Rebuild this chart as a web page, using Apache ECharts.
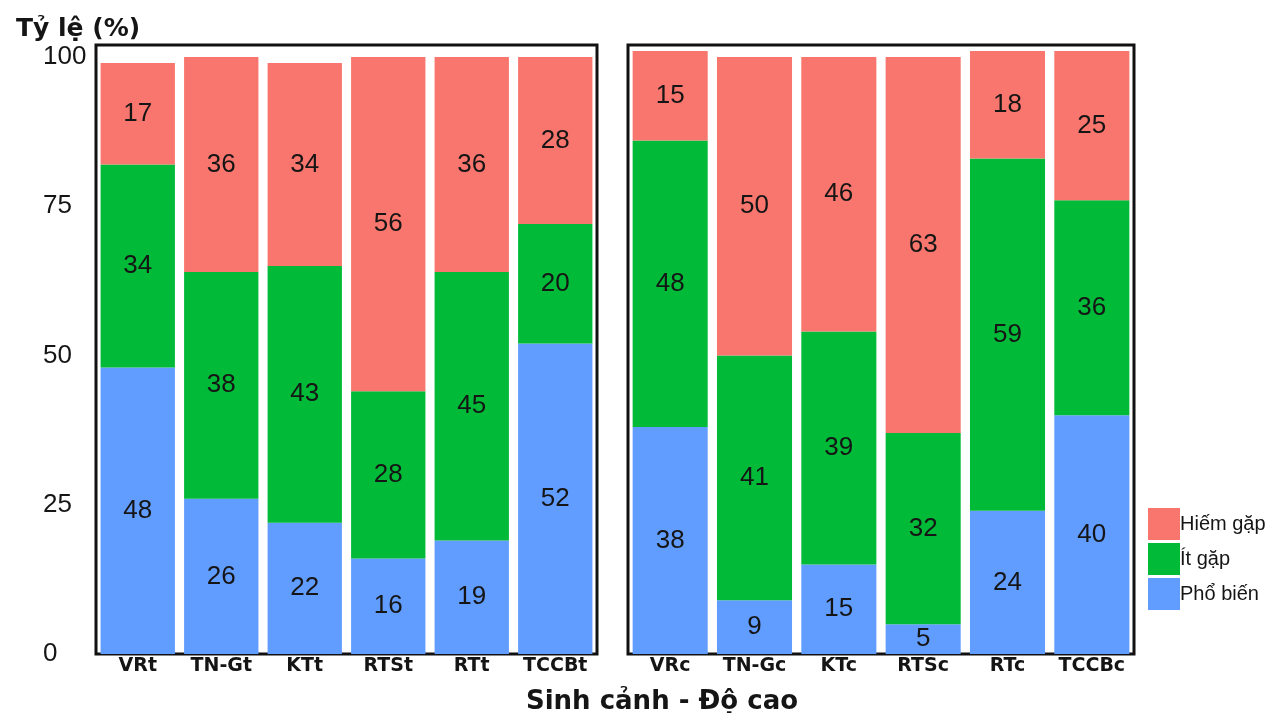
<!DOCTYPE html>
<html><head><meta charset="utf-8">
<script src="https://cdn.jsdelivr.net/npm/echarts@6/dist/echarts.min.js"></script>
<style>html,body{margin:0;padding:0;background:#fff}#c{width:1271px;height:713px}</style>
</head><body><div id="c"></div>
<script>
const catsLow = ['VRt','TN-Gt','KTt','RTSt','RTt','TCCBt'];
const catsHigh = ['VRc','TN-Gc','KTc','RTSc','RTc','TCCBc'];
const phoBienLow = [48,26,22,16,19,52];
const itGapLow = [34,38,43,28,45,20];
const hiemGapLow = [17,36,34,56,36,28];
const phoBienHigh = [38,9,15,5,24,40];
const itGapHigh = [48,41,39,32,59,36];
const hiemGapHigh = [15,50,46,63,18,25];
const yTicks = [0,25,50,75,100];
const legendOrder = ['Hiếm gặp','Ít gặp','Phổ biến'];
const colors = {'Phổ biến':'#619CFF','Ít gặp':'#00BA38','Hiếm gặp':'#F8766D'};

const font = 'Liberation Sans, Arial, sans-serif';
const boldFont = 'DejaVu Sans, sans-serif';
function mkSeries(name, data, idx, stack){
  return {name:name,type:'bar',stack:stack,xAxisIndex:idx,yAxisIndex:idx,data:data,
    barCategoryGap:'11%',itemStyle:{color:colors[name]},
    label:{show:true,position:'inside',fontSize:26,color:'#151515',fontFamily:font}};
}
function mkY(idx, showLabels){
  return {type:'value',gridIndex:idx,min:0,max:102,
    axisLine:{show:false},splitLine:{show:false},
    axisTick:{show:false},
    axisLabel:{show:showLabels,customValues:yTicks,fontSize:26,color:'#151515',fontFamily:font,
      align:'left',margin:53}};
}
function mkX(idx, cats){
  return {type:'category',gridIndex:idx,data:cats,
    axisLine:{show:false},axisTick:{show:false},
    axisLabel:{interval:0,fontSize:19,fontWeight:'bold',color:'#151515',fontFamily:boldFont,margin:3}};
}
const option = {
  animation:false,
  backgroundColor:'#fff',
  title:[
    {text:'Tỷ lệ (%)',left:11,top:12,textStyle:{fontSize:25,fontWeight:'bold',color:'#151515',fontFamily:boldFont}},
    {text:'Sinh cảnh - Độ cao',left:657,top:684,textAlign:'center',textStyle:{fontSize:26,fontWeight:'bold',color:'#151515',fontFamily:boldFont}}
  ],
  grid:[
    {left:96,right:1271-597,top:45,bottom:713-654,show:true,borderColor:'#111',borderWidth:3,backgroundColor:'transparent'},
    {left:628,right:1271-1134,top:45,bottom:713-654,show:true,borderColor:'#111',borderWidth:3,backgroundColor:'transparent'}
  ],
  xAxis:[mkX(0,catsLow),mkX(1,catsHigh)],
  yAxis:[mkY(0,true),mkY(1,false)],
  legend:{orient:'vertical',left:1143,top:503,itemWidth:32,itemHeight:32,itemGap:3,icon:'rect',
    data:legendOrder,textStyle:{fontSize:20,color:'#151515',fontFamily:font,padding:[4,0,0,-5]}},
  series:[
    mkSeries('Phổ biến',phoBienLow,0,'a'),
    mkSeries('Ít gặp',itGapLow,0,'a'),
    mkSeries('Hiếm gặp',hiemGapLow,0,'a'),
    mkSeries('Phổ biến',phoBienHigh,1,'b'),
    mkSeries('Ít gặp',itGapHigh,1,'b'),
    mkSeries('Hiếm gặp',hiemGapHigh,1,'b')
  ]
};
echarts.init(document.getElementById('c'),null,{renderer:'canvas'}).setOption(option);
</script></body></html>
